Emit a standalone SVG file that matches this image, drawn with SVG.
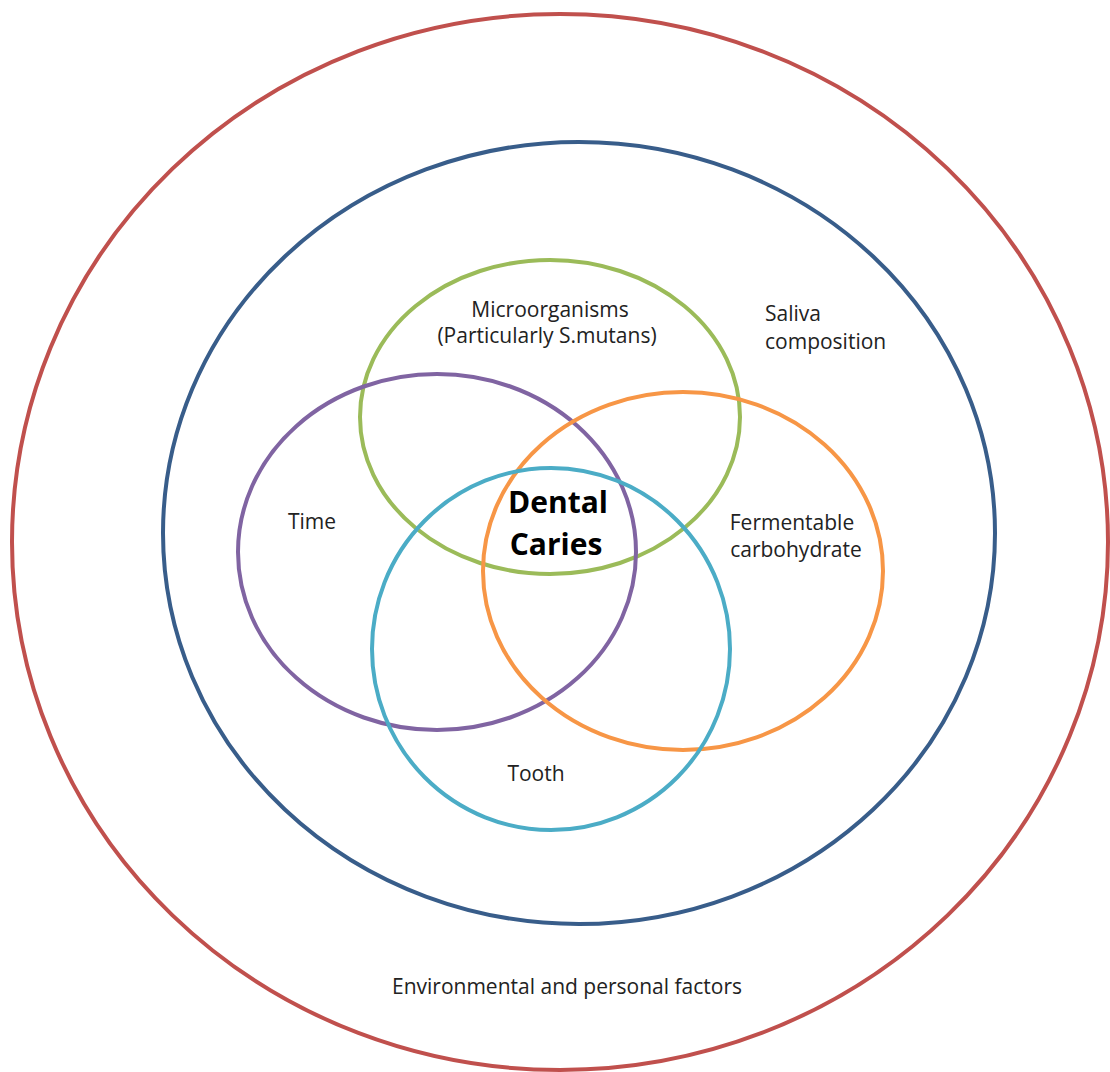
<svg xmlns="http://www.w3.org/2000/svg" width="1110" height="1072" viewBox="0 0 1110 1072">
<style>
.c{fill:none;stroke-width:4}
.t{font-family:"Open Sans","Liberation Sans",sans-serif;font-size:21px;fill:#222;text-anchor:middle}
.s{text-anchor:start}
.b{font-family:"Open Sans","Liberation Sans",sans-serif;font-size:30px;font-weight:bold;fill:#000;text-anchor:middle}
</style>
<rect width="1110" height="1072" fill="#fff"/>
<g id="environment"><ellipse class="c" cx="560" cy="542" rx="548" ry="528" stroke="#C0504D"/>
<text class="t" x="567" y="994">Environmental and personal factors</text></g>
<g id="saliva"><ellipse class="c" cx="579" cy="533" rx="416" ry="391" stroke="#385D8A"/>
<text class="t s" x="765" y="321">Saliva</text>
<text class="t s" x="765" y="349">composition</text></g>
<g id="microorganisms"><ellipse class="c" cx="550" cy="417" rx="190" ry="157" stroke="#9BBB59"/>
<text class="t" x="550" y="317">Microorganisms</text>
<text class="t" x="547" y="343">(Particularly S.mutans)</text></g>
<g id="time"><ellipse class="c" cx="437" cy="552" rx="199" ry="178" stroke="#8064A2"/>
<text class="t" x="312" y="529">Time</text></g>
<g id="carbohydrate"><ellipse class="c" cx="683" cy="571" rx="200" ry="179" stroke="#F79646"/>
<text class="t" x="792" y="530">Fermentable</text>
<text class="t" x="796" y="557">carbohydrate</text></g>
<g id="tooth"><ellipse class="c" cx="551" cy="649" rx="179" ry="181" stroke="#4BACC6"/>
<text class="t" x="536" y="781">Tooth</text></g>
<g id="caries"><text class="b" x="558" y="513">Dental</text>
<text class="b" x="556" y="555">Caries</text></g>
<g id="connectors"/>
</svg>
